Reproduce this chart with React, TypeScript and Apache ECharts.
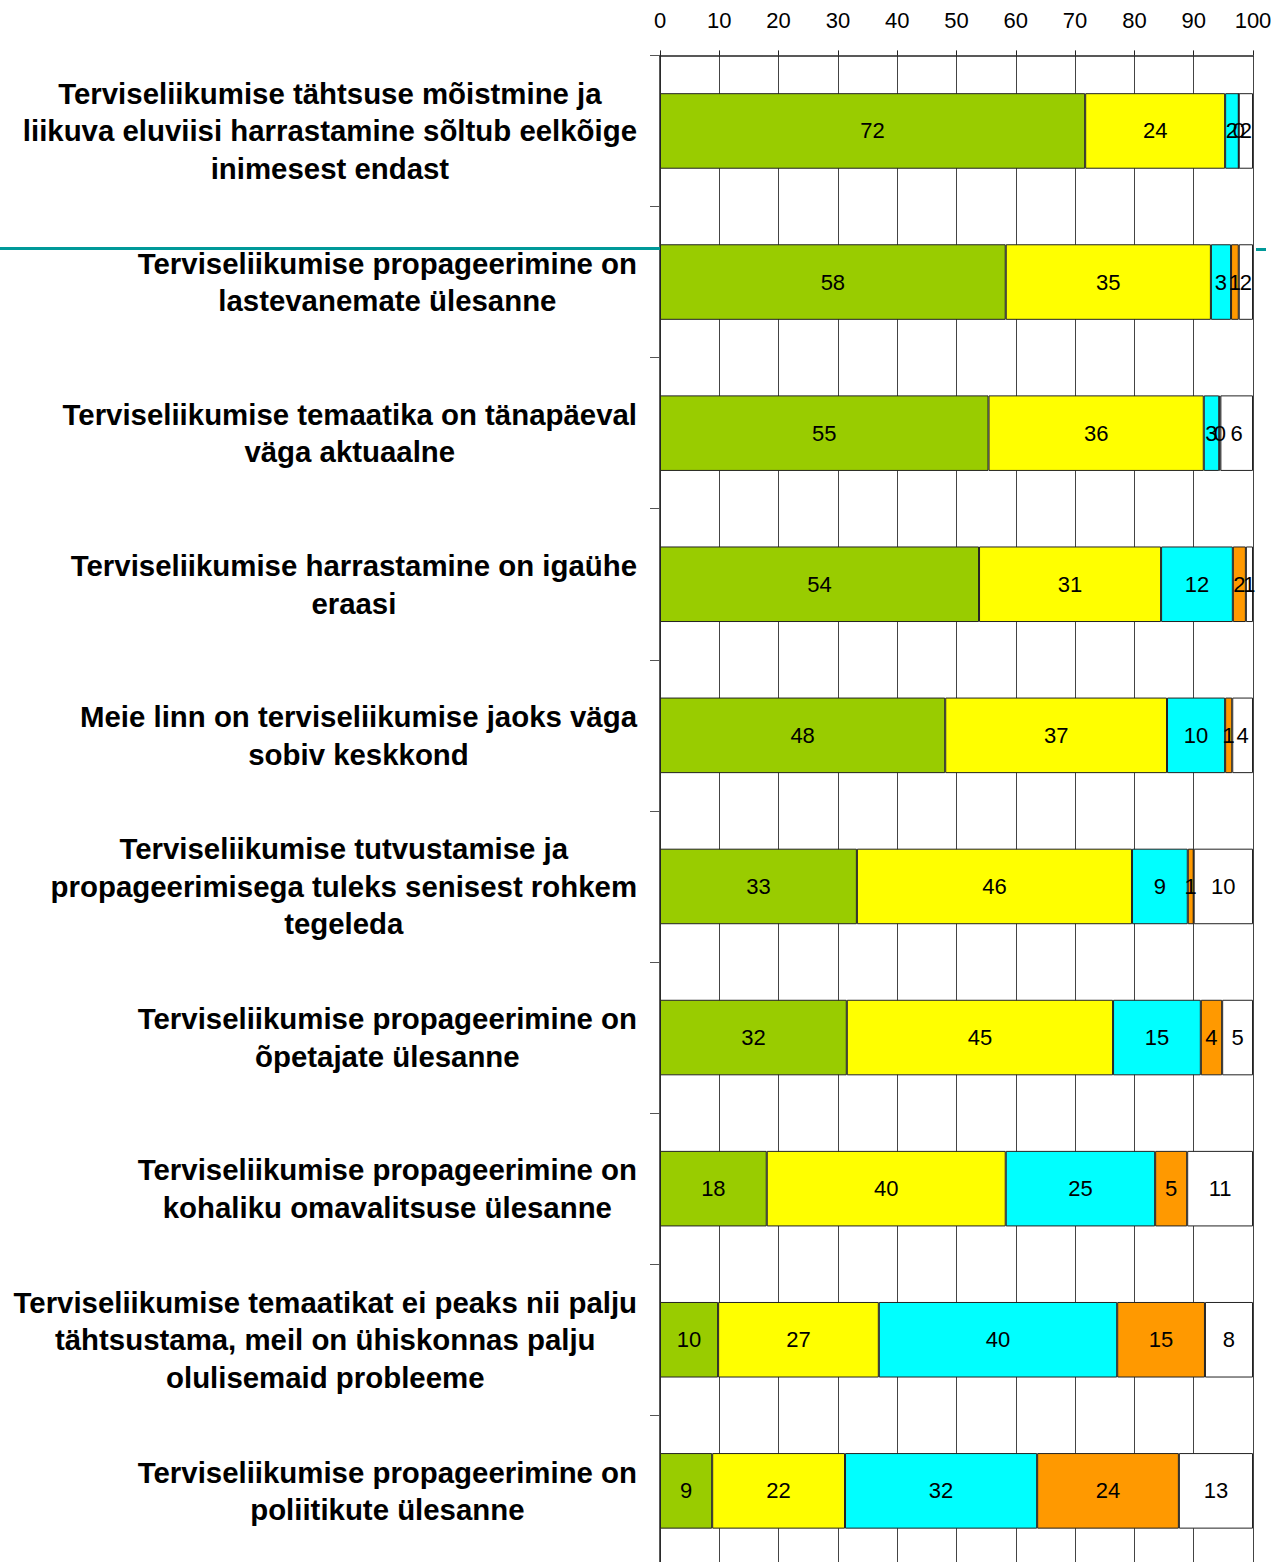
import React, { useEffect, useRef } from "react";
import * as echarts from "echarts";

const categories: string[] = [
  "Terviseliikumise tähtsuse mõistmine ja\nliikuva eluviisi harrastamine sõltub eelkõige\ninimesest endast",
  "Terviseliikumise propageerimine on\nlastevanemate ülesanne",
  "Terviseliikumise temaatika on tänapäeval\nväga aktuaalne",
  "Terviseliikumise harrastamine on igaühe\neraasi",
  "Meie linn on terviseliikumise jaoks väga\nsobiv keskkond",
  "Terviseliikumise tutvustamise ja\npropageerimisega tuleks senisest rohkem\ntegeleda",
  "Terviseliikumise propageerimine on\nõpetajate ülesanne",
  "Terviseliikumise propageerimine on\nkohaliku omavalitsuse ülesanne",
  "Terviseliikumise temaatikat ei peaks nii palju\ntähtsustama, meil on ühiskonnas palju\nolulisemaid probleeme",
  "Terviseliikumise propageerimine on\npoliitikute ülesanne",
];

const fullyAgree: number[] = [71.7, 58.3, 55.4, 53.8, 48.1, 33.2, 31.5, 18.0, 9.8, 8.8];
const ratherAgree: number[] = [23.6, 34.6, 36.3, 30.7, 37.4, 46.4, 44.9, 40.3, 27.1, 22.4];
const ratherDisagree: number[] = [2.3, 3.4, 2.6, 12.1, 9.8, 9.4, 14.8, 25.2, 40.2, 32.4];
const fullyDisagree: number[] = [0.0, 1.3, 0.2, 2.2, 1.2, 1.0, 3.6, 5.4, 14.8, 23.9];
const dontKnow: number[] = [2.4, 2.4, 5.5, 1.2, 3.5, 10.0, 5.2, 11.1, 8.1, 12.5];

const seriesNames: string[] = ["Täiesti nõus", "Pigem nõus", "Pigem ei ole nõus", "Üldse ei ole nõus", "Ei oska öelda"];
const seriesColors: string[] = ["#99CC00", "#FFFF00", "#00FFFF", "#FF9900", "#FFFFFF"];
const xTicks = { min: 0, max: 100, interval: 10 };

const NUM_FONT = "'Liberation Sans Narrow', 'Arial Narrow', 'Liberation Sans', Arial, sans-serif";
const CAT_FONT = "'Liberation Sans', Arial, sans-serif";

export default function App() {
  const ref = useRef<HTMLDivElement>(null);
  useEffect(() => {
    document.body.style.margin = "0";
    if (!ref.current) return;
    const chart = echarts.init(ref.current, undefined, { renderer: "svg" });
    const data = [fullyAgree, ratherAgree, ratherDisagree, fullyDisagree, dontKnow];
    chart.setOption({
      animation: false,
      backgroundColor: "#ffffff",
      grid: { left: 660, top: 55.4, width: 593, height: 1511, containLabel: false },
      xAxis: {
        type: "value",
        position: "top",
        min: xTicks.min,
        max: xTicks.max,
        interval: xTicks.interval,
        axisLine: { show: true, lineStyle: { color: "#222", width: 1.5 } },
        axisTick: { show: true, inside: false, length: 5, lineStyle: { color: "#222" } },
        axisLabel: { fontSize: 22, color: "#000", fontFamily: NUM_FONT, margin: 24 },
        splitLine: { show: true, lineStyle: { color: "#444", width: 1 } },
      },
      yAxis: {
        type: "category",
        inverse: true,
        data: categories,
        axisLine: { show: true, lineStyle: { color: "#222", width: 1.5 } },
        axisTick: { show: true, length: 10, lineStyle: { color: "#555" } },
        axisLabel: {
          margin: 23,
          align: "right",
          formatter: (v: string) => v.split("\n").map((l) => `{c|${l}}`).join("\n"),
          rich: {
            c: {
              fontSize: 29.4,
              fontWeight: "bold",
              fontFamily: CAT_FONT,
              color: "#000",
              lineHeight: 37.5,
              align: "center",
            },
          },
        },
      },
      series: data.map((vals, i) => ({
        type: "bar",
        name: seriesNames[i],
        stack: "total",
        barCategoryGap: "50%",
        data: vals,
        itemStyle: { color: seriesColors[i], borderColor: "#222", borderWidth: 1 },
        label: {
          show: true,
          position: "inside",
          color: "#000",
          fontSize: 22,
          fontFamily: NUM_FONT,
          formatter: (p: any) => String(Math.round(p.value)),
        },
      })),
      graphic: [
        { type: "line", shape: { x1: 0, y1: 248.5, x2: 660, y2: 248.5 }, style: { stroke: "#009999", lineWidth: 3 }, z: 100 },
        { type: "line", shape: { x1: 1256, y1: 249.5, x2: 1266, y2: 249.5 }, style: { stroke: "#009999", lineWidth: 3 }, z: 100 },
      ],
    });
    return () => chart.dispose();
  }, []);
  return <div ref={ref} style={{ width: 1285, height: 1600 }} />;
}
